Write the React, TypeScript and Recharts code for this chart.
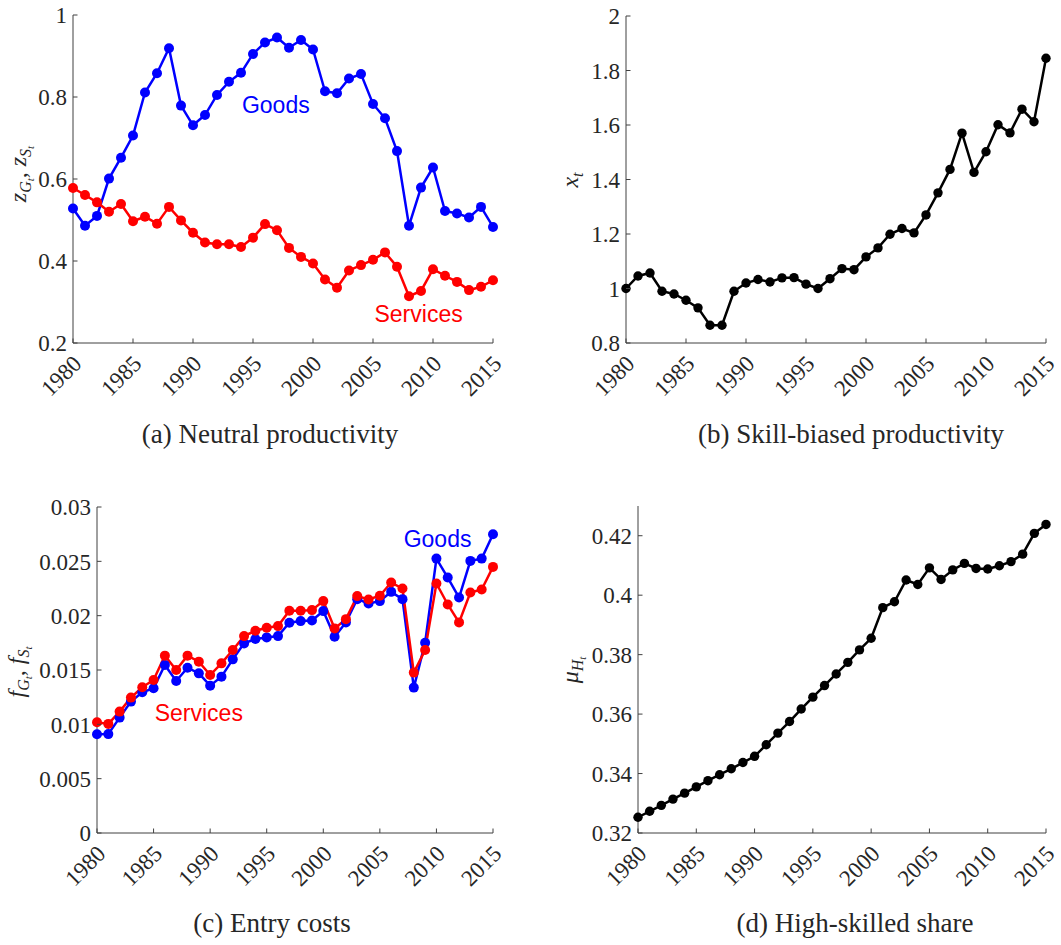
import React from 'react';
import {
  LineChart, Line, XAxis, YAxis, ReferenceDot,
} from 'recharts';

// years on the horizontal axis
const YEARS = [
  1980, 1981, 1982, 1983, 1984, 1985, 1986, 1987, 1988, 1989,
  1990, 1991, 1992, 1993, 1994, 1995, 1996, 1997, 1998, 1999,
  2000, 2001, 2002, 2003, 2004, 2005, 2006, 2007, 2008, 2009,
  2010, 2011, 2012, 2013, 2014, 2015,
];
const YEAR_TICKS = [1980, 1985, 1990, 1995, 2000, 2005, 2010, 2015];

// (a) neutral productivity
const Z_GOODS = [
  0.528, 0.486, 0.510, 0.601, 0.652, 0.706, 0.811, 0.858, 0.919, 0.779,
  0.731, 0.756, 0.805, 0.837, 0.859, 0.905, 0.933, 0.945, 0.920, 0.939,
  0.916, 0.814, 0.809, 0.845, 0.856, 0.783, 0.748, 0.668, 0.486, 0.579,
  0.628, 0.522, 0.516, 0.506, 0.532, 0.483,
];
const Z_SERVICES = [
  0.578, 0.561, 0.543, 0.520, 0.539, 0.497, 0.508, 0.491, 0.532, 0.499,
  0.469, 0.445, 0.441, 0.441, 0.434, 0.457, 0.490, 0.475, 0.432, 0.410,
  0.394, 0.355, 0.335, 0.377, 0.390, 0.403, 0.421, 0.386, 0.314, 0.327,
  0.380, 0.364, 0.349, 0.329, 0.337, 0.353,
];
const Z_TICKS = [0.2, 0.4, 0.6, 0.8, 1];

// (b) skill-biased productivity
const X_SKILL = [
  1.000, 1.046, 1.057, 0.990, 0.980, 0.957, 0.929, 0.865, 0.865, 0.990,
  1.020, 1.033, 1.024, 1.039, 1.040, 1.016, 1.000, 1.036, 1.073, 1.069,
  1.116, 1.149, 1.199, 1.220, 1.204, 1.270, 1.351, 1.437, 1.570, 1.426,
  1.502, 1.601, 1.571, 1.658, 1.612, 1.845,
];
const X_TICKS = [0.8, 1, 1.2, 1.4, 1.6, 1.8, 2];

// (c) entry costs
const F_GOODS = [
  0.00909, 0.00910, 0.01062, 0.01209, 0.01295, 0.01332, 0.01546, 0.01399, 0.01521, 0.01469,
  0.01356, 0.01439, 0.01598, 0.01745, 0.01785, 0.01800, 0.01812, 0.01935, 0.01950, 0.01956,
  0.02042, 0.01806, 0.01938, 0.02152, 0.02112, 0.02134, 0.02219, 0.02152, 0.01338, 0.01751,
  0.02525, 0.02351, 0.02167, 0.02504, 0.02525, 0.02749,
];
const F_SERVICES = [
  0.01019, 0.01004, 0.01117, 0.01246, 0.01341, 0.01408, 0.01632, 0.01500, 0.01632, 0.01577,
  0.01454, 0.01561, 0.01684, 0.01812, 0.01861, 0.01889, 0.01904, 0.02045, 0.02045, 0.02051,
  0.02134, 0.01883, 0.01968, 0.02180, 0.02149, 0.02183, 0.02305, 0.02250, 0.01476, 0.01684,
  0.02296, 0.02103, 0.01938, 0.02213, 0.02241, 0.02449,
];
const F_TICKS = [0, 0.005, 0.01, 0.015, 0.02, 0.025, 0.03];

// (d) high-skilled share
const MU_HIGH = [
  0.3253, 0.3273, 0.3293, 0.3314, 0.3334, 0.3355, 0.3376, 0.3396, 0.3416, 0.3437,
  0.3458, 0.3497, 0.3536, 0.3575, 0.3617, 0.3657, 0.3696, 0.3735, 0.3774, 0.3816,
  0.3855, 0.3958, 0.3978, 0.4051, 0.4036, 0.4092, 0.4053, 0.4085, 0.4107, 0.4090,
  0.4088, 0.4099, 0.4113, 0.4138, 0.4208, 0.4238,
];
const MU_TICKS = [0.32, 0.34, 0.36, 0.38, 0.4, 0.42];

const BLUE = '#0000ff';
const RED = '#ff0000';
const BLACK = '#000000';
const AXIS = '#404040';
const INK = '#262626';
const SERIF = '"Liberation Serif", "DejaVu Serif", serif';
const SANS = '"Liberation Sans", Arial, sans-serif';

const dataA = YEARS.map((year, i) => ({ year, goods: Z_GOODS[i], services: Z_SERVICES[i] }));
const dataB = YEARS.map((year, i) => ({ year, x: X_SKILL[i] }));
const dataC = YEARS.map((year, i) => ({ year, goods: F_GOODS[i], services: F_SERVICES[i] }));
const dataD = YEARS.map((year, i) => ({ year, mu: MU_HIGH[i] }));

const serifText = { fontFamily: SERIF, fontSize: 23, fill: INK };

// eslint-disable-next-line @typescript-eslint/no-explicit-any
const XTick = ({ x, y, payload }: any) => (
  <g>
    <line x1={x} y1={y} x2={x} y2={y - 4.5} stroke={AXIS} strokeWidth={1} />
    <text
      x={x + 10}
      y={y + 22}
      transform={`rotate(-45 ${x + 10} ${y + 22})`}
      textAnchor="end"
      style={serifText}
    >
      {payload.value}
    </text>
  </g>
);

// eslint-disable-next-line @typescript-eslint/no-explicit-any
const YTick = ({ x, y, payload }: any) => (
  <g>
    <line x1={x} y1={y} x2={x + 4.5} y2={y} stroke={AXIS} strokeWidth={1} />
    <text x={x - 6} y={y} dy="0.36em" textAnchor="end" style={serifText}>
      {String(payload.value)}
    </text>
  </g>
);

type Part = { t: string; size: number; dy: number; italic?: boolean };

const MathLabel = ({ cx, cy, parts }: { cx: number; cy: number; parts: Part[] }) => (
  <text
    x={cx}
    y={cy}
    transform={`rotate(-90 ${cx} ${cy})`}
    textAnchor="middle"
    style={{ fontFamily: SERIF, fill: INK }}
  >
    {parts.map((p, i) => (
      <tspan
        key={i}
        dy={p.dy}
        style={{ fontSize: p.size, fontStyle: p.italic === false ? 'normal' : 'italic' }}
      >
        {p.t}
      </tspan>
    ))}
  </text>
);

const sub = (base: string, s: string): Part[] => [
  { t: base, size: 24, dy: 0 },
  { t: s, size: 16, dy: 5 },
  { t: 't', size: 11, dy: 3 },
];

const LABEL_A: Part[] = [
  ...sub('z', 'G'),
  { t: ', ', size: 24, dy: -8, italic: false },
  ...sub('z', 'S'),
];
const LABEL_C: Part[] = [
  ...sub('f', 'G'),
  { t: ', ', size: 24, dy: -8, italic: false },
  ...sub('f', 'S'),
];
const LABEL_B: Part[] = [
  { t: 'x', size: 24, dy: 0 },
  { t: 't', size: 16, dy: 5 },
];
const LABEL_D: Part[] = [
  { t: 'μ', size: 24, dy: 0 },
  { t: 'H', size: 16, dy: 5 },
  { t: 't', size: 11, dy: 3 },
];

const xAxisProps = {
  dataKey: 'year',
  type: 'number' as const,
  domain: [1980, 2015],
  ticks: YEAR_TICKS,
  tickSize: 0,
  tickMargin: 0,
  height: 60,
  tick: <XTick />,
  axisLine: { stroke: AXIS, strokeWidth: 1 },
  interval: 0 as const,
};

const yAxisBase = {
  type: 'number' as const,
  tickSize: 0,
  tickMargin: 0,
  tick: <YTick />,
  axisLine: { stroke: AXIS, strokeWidth: 1 },
  interval: 0 as const,
};

const seriesLabel = (color: string) => ({
  position: 'center' as const,
  fill: color,
  fontSize: 23,
  fontFamily: SANS,
});

const Caption = ({ left, top, text }: { left: number; top: number; text: string }) => (
  <div
    style={{
      position: 'absolute',
      left: left - 200,
      top,
      width: 400,
      textAlign: 'center',
      fontFamily: SERIF,
      fontSize: 27,
      lineHeight: '27px',
      color: INK,
      whiteSpace: 'nowrap',
    }}
  >
    {text}
  </div>
);

const App = () => (
  <div style={{ position: 'absolute', left: 0, top: 0, width: 1061, height: 945, background: '#fff' }}>
    <div style={{ position: 'absolute', left: 0, top: 0 }}>
      <LineChart width={530} height={420} data={dataA} margin={{ top: 15, right: 37, bottom: 17, left: 0 }}>
        <XAxis {...xAxisProps} />
        <YAxis
          {...yAxisBase}
          width={73}
          domain={[0.2, 1]}
          ticks={Z_TICKS}
          label={<MathLabel cx={26} cy={174} parts={LABEL_A} />}
        />
        <Line dataKey="goods" stroke={BLUE} strokeWidth={2.5} dot={{ r: 5, fill: BLUE, stroke: BLUE, strokeWidth: 0 }} isAnimationActive={false} />
        <Line dataKey="services" stroke={RED} strokeWidth={2.5} dot={{ r: 5, fill: RED, stroke: RED, strokeWidth: 0 }} isAnimationActive={false} />
        <ReferenceDot x={1996.9} y={0.78} r={0} fill="none" stroke="none" label={{ value: 'Goods', ...seriesLabel(BLUE) }} />
        <ReferenceDot x={2008.8} y={0.271} r={0} fill="none" stroke="none" label={{ value: 'Services', ...seriesLabel(RED) }} />
      </LineChart>
    </div>

    <div style={{ position: 'absolute', left: 530, top: 0 }}>
      <LineChart width={531} height={420} data={dataB} margin={{ top: 16, right: 15, bottom: 17, left: 0 }}>
        <XAxis {...xAxisProps} />
        <YAxis
          {...yAxisBase}
          width={96}
          domain={[0.8, 2]}
          ticks={X_TICKS}
          label={<MathLabel cx={48} cy={180} parts={LABEL_B} />}
        />
        <Line dataKey="x" stroke={BLACK} strokeWidth={2.5} dot={{ r: 4.7, fill: BLACK, stroke: BLACK, strokeWidth: 0 }} isAnimationActive={false} />
      </LineChart>
    </div>

    <div style={{ position: 'absolute', left: 0, top: 480 }}>
      <LineChart width={530} height={420} data={dataC} margin={{ top: 27, right: 37, bottom: 7, left: 0 }}>
        <XAxis {...xAxisProps} />
        <YAxis
          {...yAxisBase}
          width={97}
          domain={[0, 0.03]}
          ticks={F_TICKS}
          label={<MathLabel cx={24} cy={192} parts={LABEL_C} />}
        />
        <Line dataKey="goods" stroke={BLUE} strokeWidth={2.5} dot={{ r: 5, fill: BLUE, stroke: BLUE, strokeWidth: 0 }} isAnimationActive={false} />
        <Line dataKey="services" stroke={RED} strokeWidth={2.5} dot={{ r: 5, fill: RED, stroke: RED, strokeWidth: 0 }} isAnimationActive={false} />
        <ReferenceDot x={2010.1} y={0.02705} r={0} fill="none" stroke="none" label={{ value: 'Goods', ...seriesLabel(BLUE) }} />
        <ReferenceDot x={1989.0} y={0.01104} r={0} fill="none" stroke="none" label={{ value: 'Services', ...seriesLabel(RED) }} />
      </LineChart>
    </div>

    <div style={{ position: 'absolute', left: 530, top: 480 }}>
      <LineChart width={531} height={420} data={dataD} margin={{ top: 26, right: 15, bottom: 7, left: 0 }}>
        <XAxis {...xAxisProps} />
        <YAxis
          {...yAxisBase}
          width={108}
          domain={[0.32, 0.43]}
          ticks={MU_TICKS}
          label={<MathLabel cx={48} cy={190} parts={LABEL_D} />}
        />
        <Line dataKey="mu" stroke={BLACK} strokeWidth={2.5} dot={{ r: 4.7, fill: BLACK, stroke: BLACK, strokeWidth: 0 }} isAnimationActive={false} />
      </LineChart>
    </div>

    <Caption left={270} top={421} text="(a) Neutral productivity" />
    <Caption left={851} top={421} text="(b) Skill-biased productivity" />
    <Caption left={272} top={910} text="(c) Entry costs" />
    <Caption left={855} top={910} text="(d) High-skilled share" />
  </div>
);

export default App;
